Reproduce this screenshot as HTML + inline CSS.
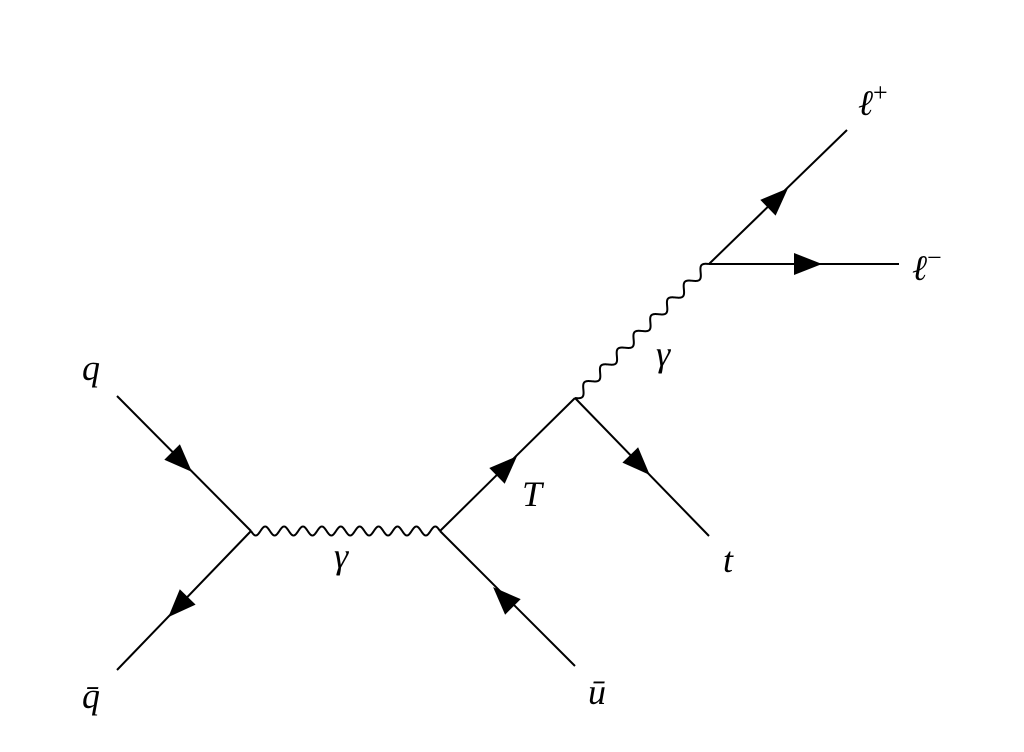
<!DOCTYPE html>
<html><head><meta charset="utf-8"><style>
html,body{margin:0;padding:0;background:#fff;}
svg{display:block}
text{font-family:"Liberation Serif",serif;font-style:italic;font-size:36px;fill:#000}
</style></head><body>
<svg id="s" width="1024" height="752" viewBox="0 0 1024 752" xmlns="http://www.w3.org/2000/svg">
<g stroke="#000" stroke-width="2" fill="none">
<line x1="117" y1="396" x2="251" y2="531"/>
<line x1="117" y1="670" x2="251" y2="531"/>
<line x1="575" y1="666" x2="440" y2="531"/>
<line x1="440" y1="531" x2="575" y2="398"/>
<line x1="575" y1="398" x2="709" y2="536"/>
<line x1="709" y1="264" x2="847" y2="130"/>
<line x1="709" y1="264" x2="899" y2="264"/>
<path id="w1"/>
<path id="w2"/>
</g>
<g id="arrows" fill="#000"></g>
<text x="82" y="380">q</text>
<text x="82" y="708">q̄</text>
<text x="334" y="568">γ</text>
<text x="522" y="506">T</text>
<text x="723" y="572">t</text>
<text x="588" y="704">ū</text>
<text x="656" y="366">γ</text>
<text x="858" y="115">ℓ<tspan font-size="26" dy="-14" font-style="normal">+</tspan></text>
<text x="912" y="280">ℓ<tspan font-size="26" dy="-14" font-style="normal">−</tspan></text>
</svg>
<script>
function wave(x1,y1,x2,y2,n,a){
 var dx=x2-x1,dy=y2-y1,L=Math.hypot(dx,dy),ux=dx/L,uy=dy/L,nx=-uy,ny=ux,d="";
 var N=400;
 for(var i=0;i<=N;i++){var t=i/N,s=t*L,o=a*Math.sin(2*Math.PI*n*t);
  var x=x1+ux*s+nx*o,y=y1+uy*s+ny*o;d+=(i?"L":"M")+x.toFixed(2)+" "+y.toFixed(2);}
 return d;}
document.getElementById("w1").setAttribute("d",wave(251,531,440,531,10,4.5));
document.getElementById("w2").setAttribute("d",wave(575,398,709,264,8,4.5));
var arr=[[182,462,117,396,251,531],[178,607,251,531,117,670],[503,597,575,666,440,531],[507,466,440,531,575,398],[640,465,575,398,709,536],[778,198,709,264,847,130],[808,264,709,264,899,264]];
var g=document.getElementById("arrows"),h="";
arr.forEach(function(a){var cx=a[0],cy=a[1],dx=a[4]-a[2],dy=a[5]-a[3],L=Math.hypot(dx,dy),ux=dx/L,uy=dy/L,nx=-uy,ny=ux;
 var l=14,w=11;
 var p=[[cx+ux*l,cy+uy*l],[cx-ux*l+nx*w,cy-uy*l+ny*w],[cx-ux*l-nx*w,cy-uy*l-ny*w]];
 h+='<polygon points="'+p.map(function(q){return q[0].toFixed(1)+","+q[1].toFixed(1)}).join(" ")+'"/>';});
g.innerHTML=h;
</script>
</body></html>
